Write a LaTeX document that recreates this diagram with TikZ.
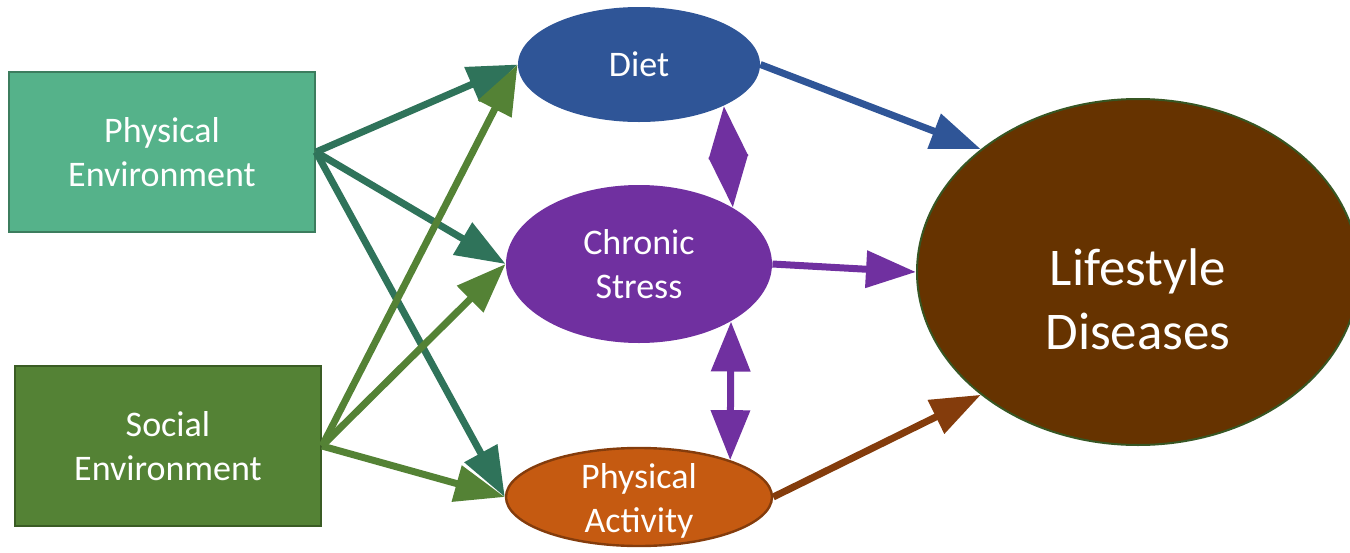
\documentclass[tikz,border=0pt]{standalone}
\usepackage{fontspec}
\setmainfont{Carlito}
\usetikzlibrary{arrows.meta,shapes.geometric}
\definecolor{physfill}{HTML}{55B28A}
\definecolor{physdraw}{HTML}{3C7D5E}
\definecolor{physarrow}{HTML}{2F735A}
\definecolor{socfill}{HTML}{548235}
\definecolor{socdraw}{HTML}{3A5C24}
\definecolor{dietblue}{HTML}{2F5597}
\definecolor{stresspurple}{HTML}{7030A0}
\definecolor{activityfill}{HTML}{C55A11}
\definecolor{activitydraw}{HTML}{843C0C}
\definecolor{diseasefill}{HTML}{663300}
\definecolor{diseasedraw}{HTML}{375623}

\begin{document}
\begin{tikzpicture}[x=0.5pt,y=-0.5pt,
  box/.style={rectangle,line width=1pt,minimum width=153pt,minimum height=80pt,
    text=white,align=center,font=\fontsize{18}{22}\selectfont},
  bubble/.style={ellipse,inner sep=0pt,text=white,align=center,
    font=\fontsize{18}{22}\selectfont},
  link/.style={line width=3.5pt,-{Triangle[length=25pt,width=18pt]}},
  twohead/.style={line width=3.5pt,
    {Triangle[length=#1,width=19pt]}-{Triangle[length=#1,width=19pt]}},
  twohead/.default=25pt]
  \useasboundingbox (0,0) rectangle (1350,552);

  % sources
  \node[box,fill=physfill,draw=physdraw] (pe) at (162,152) {Physical\\Environment};
  \node[box,fill=socfill,draw=socdraw] (se) at (168,446) {Social\\Environment};

  % behaviours
  \node[bubble,fill=dietblue,minimum width=121pt,minimum height=57.5pt] (diet) at (639,64.5) {Diet};
  \node[bubble,fill=stresspurple,minimum width=133pt,minimum height=79pt] (stress) at (639,264) {Chronic\\Stress};
  \node[bubble,fill=activityfill,draw=activitydraw,line width=1.2pt,minimum width=133pt,minimum height=49pt,
    label={[text=white,align=center,font=\fontsize{18}{22}\selectfont,yshift=-2pt]center:{Physical\\Activity}}]
    (activity) at (639,497) {};

  % outcome
  \node[bubble,fill=diseasefill,draw=diseasedraw,line width=1pt,minimum width=221pt,minimum height=173pt,
    label={[text=white,align=center,font=\fontsize{26.5}{32}\selectfont,yshift=-13.5pt]center:{Lifestyle\\Diseases}}]
    (disease) at (1138,272) {};

  \foreach \src/\col in {pe/physarrow,se/socfill}
    \foreach \dst in {diet,stress,activity}
      \draw[link,\col] (\src.east) -- (\dst.west);

  \draw[link,dietblue] (diet.east) -- (disease.142);
  \draw[link,stresspurple] (stress.east) -- (disease.west);
  \draw[link,activitydraw] (activity.east) -- (disease.218);

  \draw[twohead=26pt,stresspurple] (diet.-26) -- (stress.31);
  \draw[twohead,stresspurple] (stress.-32) -- (activity.22);
\end{tikzpicture}
\end{document}
